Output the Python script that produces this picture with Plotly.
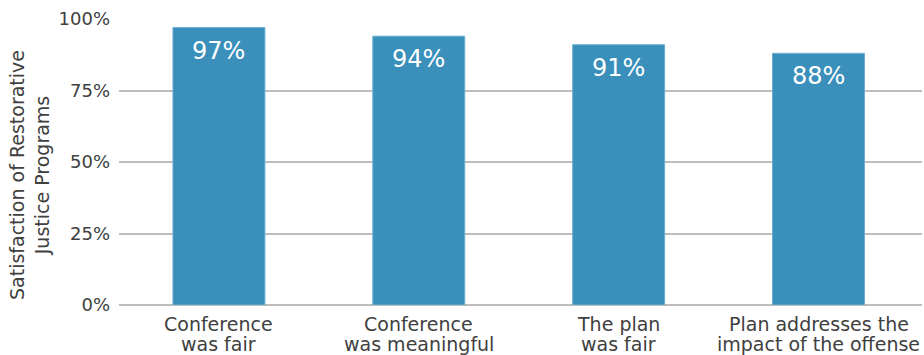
import plotly.graph_objects as go

categories = ["Conference<br>was fair", "Conference<br>was meaningful", "The plan<br>was fair", "Plan addresses the<br>impact of the offense"]
values = [0.97, 0.94, 0.91, 0.88]
y_ticks = [0, 0.25, 0.5, 0.75, 1.0]
y_tick_labels = ["0%", "25%", "50%", "75%", "100%"]
y_title = "Satisfaction of Restorative<br>Justice Programs"

bar_color = "#3a8fbb"
text_color = "#404040"
font_family = "DejaVu Sans, sans-serif"

fig = go.Figure()
fig.add_trace(go.Bar(
    x=categories, y=values,
    marker=dict(color=bar_color, line=dict(color="#6aaed3", width=1)),
    hoverinfo="skip",
))
for c, v in zip(categories, values):
    fig.add_annotation(x=c, y=v, text=f"{round(v*100)}%", showarrow=False,
                       yanchor="top", yshift=-7,
                       font=dict(family=font_family, size=24, color="white"))

# category labels, drawn line by line for tight line spacing
for c in categories:
    for i, line in enumerate(c.split("<br>")):
        fig.add_annotation(x=c, xref="x", y=0, yref="paper", text=line,
                           showarrow=False, yanchor="top", yshift=-6 - 19.5 * i,
                           font=dict(family=font_family, size=19, color=text_color))

# y-axis title
fig.add_annotation(x=0, xref="paper", y=0.5, yref="paper", text=y_title,
                   textangle=-90, showarrow=False, xanchor="center", yanchor="middle",
                   xshift=-90, yshift=-13,
                   font=dict(family=font_family, size=19, color=text_color))

fig.update_layout(
    width=924, height=355,
    margin=dict(l=119, r=2, t=19, b=50),
    paper_bgcolor="white", plot_bgcolor="white",
    bargap=0.54,
    showlegend=False,
    font=dict(family=font_family, color=text_color),
    xaxis=dict(showticklabels=False, showgrid=False, showline=False, ticks=""),
    yaxis=dict(range=[0, 1.0], tickvals=y_ticks, ticktext=y_tick_labels,
               tickfont=dict(size=18, color=text_color),
               showgrid=True, gridcolor="#bdbdbd", gridwidth=1.5,
               zeroline=True, zerolinecolor="#bdbdbd", zerolinewidth=1.5,
               showline=False, ticks="", ticklen=0, ticklabelstandoff=8),
)
fig.write_html("out.html")
